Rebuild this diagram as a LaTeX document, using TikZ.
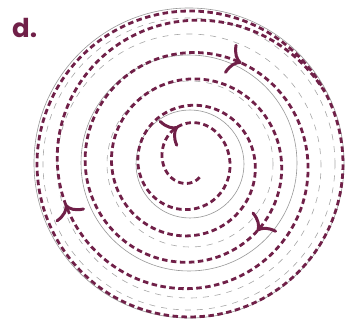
\documentclass[tikz,border=0pt]{standalone}
\usepackage{fontspec}
\newfontfamily\panelfont{Poppins}
\usetikzlibrary{arrows.meta, decorations.markings}
\definecolor{plum}{RGB}{112,32,72}
\definecolor{ringgray}{RGB}{150,150,150}

\begin{document}
\begin{tikzpicture}[x=1pt, y=-1pt,   % screen coordinates, y down
    orbit/.style={draw=plum, line width=2.8pt, dash pattern=on 5.5pt off 3.5pt},
    flowtip/.style={postaction={decorate}, decoration={markings,
        mark=at position 1 with {\arrow{Computer Modern Rightarrow[plum, length=13pt, width=32pt, line width=3pt]}}}},
    solidring/.style={draw=ringgray, line width=0.6pt},
    dashring/.style={draw=ringgray!85, line width=0.6pt, dash pattern=on 6pt off 6pt},
    declare function={
        sprad(\q)=min(19+6.6*\q+1.45*max(\q-16,0)^2+9*exp(-2*(\q-2)^2),153);
        sx(\q)=190+sprad(\q)*cos(90+90*\q);
        sy(\q)=164+sprad(\q)*sin(90+90*\q);
    }
]
    \useasboundingbox (0,0) rectangle (351,328);

    % 1. The level rings
    \draw [solidring] (190,164) circle (54pt);
    \draw [dashring]  (190,164) circle (83pt);
    \draw [solidring] (189,163) circle (108pt);
    \draw [dashring]  (189,166) circle (132pt);
    \draw [dashring]  (189,164) circle (146pt);
    \draw [solidring] (189,163) circle (155pt);

    % 2. The trajectory, spiralling out onto the cycle
    \draw [orbit] plot [domain=-0.4:22.7, samples=900, variable=\q] ({sx(\q)},{sy(\q)});

    % 3. Direction marks
    \foreach \q in {1.8, 11.5, 14.3, 16.8}
        \path [flowtip] ({sx(\q-0.08)},{sy(\q-0.08)}) -- ({sx(\q)},{sy(\q)});

    % 4. Panel letter
    \node [anchor=base west, inner sep=0, text=plum,
        font=\panelfont\bfseries\fontsize{26}{30}\selectfont] (panel) at (12,38) {d.};

\end{tikzpicture}
\end{document}
